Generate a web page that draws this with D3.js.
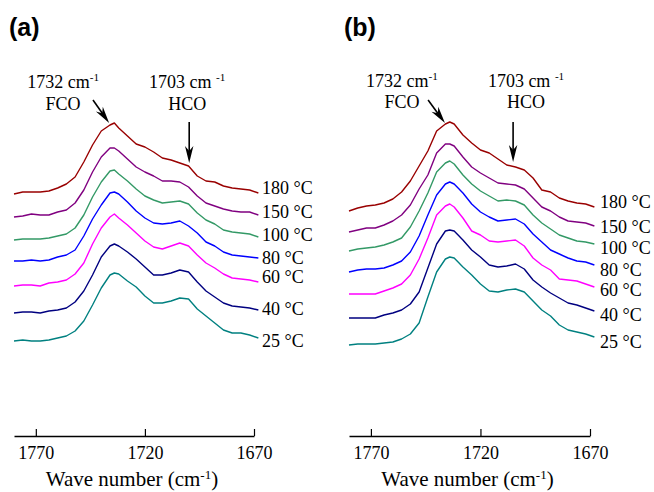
<!DOCTYPE html>
<html>
<head>
<meta charset="utf-8">
<script src="https://cdn.jsdelivr.net/npm/d3@7"></script>
<style>
  body { margin: 0; background: #fff; }
  svg text { font-family: "Liberation Serif", "Times New Roman", serif; fill: #000; }
</style>
</head>
<body>
<div id="chart"></div>
<script>
// wave numbers (cm-1) the spectra were read at
var wavenumbers = [1780, 1776, 1772, 1768, 1764, 1760, 1756, 1752, 1748, 1744, 1740, 1736, 1734, 1732,
    1728, 1724, 1720, 1716, 1712, 1708, 1704, 1700, 1696, 1692, 1688, 1684, 1680, 1676, 1672, 1668];

var temps = ["25 °C", "40 °C", "60 °C", "80 °C", "100 °C", "150 °C", "180 °C"];
var colors = ["#008080", "#000080", "#ff00ff", "#0000ff", "#339966", "#800080", "#990000"];
var xTicks = [1770, 1720, 1670];

// panel (a) absorbance, arbitrary units
var a25  = [0, 1, 0, 0, 1, 3, 5, 10, 20, 36, 53, 66, 68, 67, 60, 54, 45, 38, 38, 40, 43, 42, 32, 25, 18, 11, 8, 8, 6, 3];
var a40  = [0, 1, 1, 0, 2, 3, 5, 11, 22, 38, 56, 67, 69, 67, 61, 54, 46, 38, 38, 40, 43, 41, 31, 22, 16, 10, 7, 6, 5, 3];
var a60  = [0, 1, 1, 0, 3, 4, 6, 12, 23, 42, 58, 69, 72, 68, 61, 53, 45, 39, 37, 40, 43, 40, 31, 23, 18, 12, 8, 7, 6, 4];
var a80  = [0, 0, 1, 0, 1, 4, 6, 11, 25, 42, 56, 68, 69, 67, 59, 50, 43, 38, 37, 38, 40, 35, 28, 19, 15, 9, 6, 5, 4, 3];
var a100 = [0, 1, 1, 1, 2, 4, 6, 12, 25, 43, 58, 69, 70, 66, 59, 51, 44, 40, 37, 38, 39, 36, 27, 20, 16, 10, 8, 7, 6, 3];
var a150 = [0, 1, 3, 2, 2, 5, 7, 14, 27, 45, 60, 69, 69, 66, 58, 50, 45, 41, 36, 36, 35, 30, 21, 14, 11, 8, 6, 5, 5, 2];
var a180 = [0, 2, 2, 2, 3, 6, 10, 17, 32, 49, 63, 69, 71, 66, 58, 50, 47, 42, 36, 34, 31, 28, 18, 13, 12, 8, 6, 5, 4, 1];
var offsetsA = [0, 28, 55, 80, 101, 124, 147];

// panel (b)
var b25  = [0, 1, 1, 1, 2, 3, 6, 11, 22, 48, 73, 86, 88, 87, 78, 70, 61, 54, 53, 55, 56, 53, 44, 35, 29, 20, 15, 13, 11, 8];
var b40  = [0, 0, 0, 0, 3, 5, 8, 14, 26, 50, 74, 87, 88, 87, 78, 68, 61, 53, 51, 52, 54, 49, 38, 31, 25, 20, 15, 13, 10, 7];
var b60  = [0, 0, 0, 0, 3, 6, 10, 19, 35, 56, 79, 88, 90, 87, 76, 63, 59, 53, 52, 53, 54, 48, 36, 29, 24, 15, 14, 13, 10, 7];
var b80  = [0, 2, 3, 3, 4, 7, 11, 20, 36, 57, 77, 88, 90, 88, 79, 68, 60, 55, 51, 52, 53, 48, 38, 30, 22, 18, 14, 11, 10, 7];
var b100 = [0, 2, 3, 4, 6, 9, 13, 24, 40, 58, 79, 88, 90, 87, 76, 67, 60, 55, 50, 51, 50, 46, 36, 28, 22, 16, 13, 10, 9, 7];
var b150 = [0, 2, 4, 4, 7, 11, 17, 27, 43, 57, 79, 88, 88, 86, 75, 65, 59, 54, 49, 48, 47, 43, 34, 25, 21, 15, 11, 10, 9, 6];
var b180 = [0, 3, 5, 6, 8, 12, 19, 30, 45, 60, 80, 87, 89, 87, 76, 68, 61, 58, 52, 46, 44, 41, 33, 21, 19, 13, 10, 8, 7, 4];
var offsetsB = [0, 27, 51, 73, 94, 113, 134];

// where the temperature labels sit, same units
var labelLevelsA = [0, 32, 64, 83, 106, 129, 153];
var labelLevelsB = [3, 30, 55, 75, 97, 118, 143];

var W = 654, H = 492;
var serif = "'Liberation Serif', 'Times New Roman', serif";

var svg = d3.select("#chart").append("svg")
    .attr("width", W)
    .attr("height", H);

var panels = [
    { name: "(a)", letterX: 9, left: 14, right: 254, base: 341, spectra: [a25, a40, a60, a80, a100, a150, a180],
      offsets: offsetsA, levels: labelLevelsA, labelX: 262,
      fco: { text: 1757.5, tail: [1743.8, 241], tip: [1736.4, 218] },
      hco: { text: 1700.6, x: 1699.7, tail: 219, tip: 178 },
      textLevels: [253, 231] },
    { name: "(b)", letterX: 344, left: 349, right: 590, base: 345, spectra: [b25, b40, b60, b80, b100, b150, b180],
      offsets: offsetsB, levels: labelLevelsB, labelX: 600,
      fco: { text: 1755.8, tail: [1743.9, 245], tip: [1736.2, 222] },
      hco: { text: 1699.2, x: 1705.1, tail: 223, tip: 183 },
      textLevels: [258, 237] }
];

function arrow(g, x1, y1, x2, y2) {
    var ang = Math.atan2(y2 - y1, x2 - x1);
    var len = Math.sqrt((x2 - x1) * (x2 - x1) + (y2 - y1) * (y2 - y1));
    var a = g.append("g")
        .attr("transform", "translate(" + x2 + "," + y2 + ") rotate(" + (ang * 180 / Math.PI) + ")");
    a.append("line")
        .attr("x1", -len).attr("y1", 0)
        .attr("x2", -10).attr("y2", 0)
        .attr("stroke", "#000")
        .attr("stroke-width", 1.6);
    a.append("path")
        .attr("d", "M0,0L-17,-4.2L-12,0L-17,4.2Z")
        .attr("fill", "#000");
}

function label(g, x, y, main, sup, size) {
    var t = g.append("text")
        .attr("x", x)
        .attr("y", y)
        .attr("text-anchor", "middle")
        .style("font-size", size + "px");
    t.append("tspan").text(main);
    t.append("tspan")
        .attr("dy", -7)
        .style("font-size", (size * 0.62) + "px")
        .text(sup);
    return t;
}

panels.forEach(function(p) {
    var g = svg.append("g");

    var x = d3.scaleLinear()
        .domain([1780, 1670])
        .range([p.left, p.right]);

    var y = d3.scaleLinear()
        .domain([0, 300])
        .range([p.base, p.base - 300]);

    var line = d3.line()
        .x(function(d) { return x(d[0]); })
        .y(function(d) { return y(d[1]); });

    p.spectra.forEach(function(s, i) {
        var pts = wavenumbers.map(function(w, j) { return [w, s[j] + p.offsets[i]]; });
        g.append("path")
            .attr("d", line(pts))
            .attr("fill", "none")
            .attr("stroke", colors[i])
            .attr("stroke-width", 1.4)
            .attr("stroke-linejoin", "round");

        g.append("text")
            .attr("x", p.labelX)
            .attr("y", y(p.levels[i]))
            .attr("dy", "0.35em")
            .style("font-size", "18px")
            .text(temps[i]);
    });

    // x axis, ticks pointing up
    var axis = g.append("g")
        .attr("transform", "translate(0,436)")
        .call(d3.axisBottom(x)
            .tickValues(xTicks)
            .tickFormat(d3.format("d"))
            .tickSizeInner(-7)
            .tickSizeOuter(0)
            .tickPadding(10));
    axis.attr("font-family", serif).attr("font-size", 18);
    axis.select(".domain").attr("stroke-width", 1.5);
    axis.selectAll(".tick line").attr("stroke-width", 1.2);
    axis.selectAll(".tick text")
        .style("font-family", serif)
        .style("font-size", "18px");

    label(g, (p.left + p.right) / 2 - 2, 486, "Wave number (cm", "-1", 21)
        .append("tspan").attr("dy", 7).text(")");

    // peak annotations
    label(g, x(p.fco.text), y(p.textLevels[0]), "1732 cm", "-1", 18);
    g.append("text")
        .attr("x", x(p.fco.text))
        .attr("y", y(p.textLevels[1]))
        .attr("text-anchor", "middle")
        .style("font-size", "18px")
        .text("FCO");
    label(g, x(p.hco.text), y(p.textLevels[0]), "1703 cm ", "-1", 18);
    g.append("text")
        .attr("x", x(p.hco.text))
        .attr("y", y(p.textLevels[1]))
        .attr("text-anchor", "middle")
        .style("font-size", "18px")
        .text("HCO");

    arrow(g, x(p.fco.tail[0]), y(p.fco.tail[1]), x(p.fco.tip[0]), y(p.fco.tip[1]));
    arrow(g, x(p.hco.x), y(p.hco.tail), x(p.hco.x), y(p.hco.tip));

    g.append("text")
        .attr("x", p.letterX)
        .attr("y", 36)
        .style("font-family", "'Liberation Sans', Arial, sans-serif")
        .style("font-weight", "bold")
        .style("font-size", "25px")
        .text(p.name);
});
</script>
</body>
</html>
